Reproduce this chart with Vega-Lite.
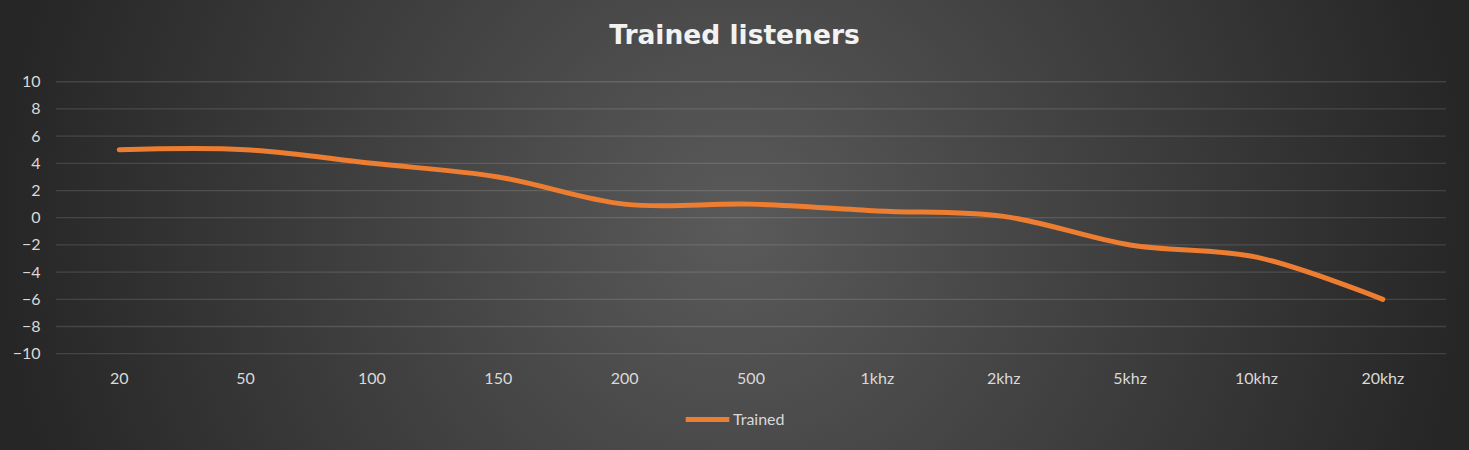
{
  "$schema": "https://vega.github.io/schema/vega-lite/v6.json",
  "description": "Trained listeners frequency response, smooth line on a dark radial gradient.",
  "width": 1469,
  "height": 450,
  "autosize": {"type": "none"},
  "padding": 0,
  "background": "#262626",
  "title": {
    "text": "Trained listeners",
    "font": "DejaVu Sans",
    "fontSize": 26.5,
    "fontWeight": "bold",
    "color": "#f2f2f2",
    "anchor": "middle",
    "baseline": "alphabetic",
    "offset": -70
  },
  "datasets": {
    "curve": [
      {"freq": "20", "value": 5, "series": "Trained"},
      {"freq": "50", "value": 5, "series": "Trained"},
      {"freq": "100", "value": 4, "series": "Trained"},
      {"freq": "150", "value": 3, "series": "Trained"},
      {"freq": "200", "value": 1, "series": "Trained"},
      {"freq": "500", "value": 1, "series": "Trained"},
      {"freq": "1khz", "value": 0.5, "series": "Trained"},
      {"freq": "2khz", "value": 0.1, "series": "Trained"},
      {"freq": "5khz", "value": -2, "series": "Trained"},
      {"freq": "10khz", "value": -2.9, "series": "Trained"},
      {"freq": "20khz", "value": -6, "series": "Trained"}
    ],
    "grid": [
      {"tick": -10}, {"tick": -8}, {"tick": -6}, {"tick": -4}, {"tick": -2},
      {"tick": 0}, {"tick": 2}, {"tick": 4}, {"tick": 6}, {"tick": 8}, {"tick": 10}
    ]
  },
  "layer": [
    {
      "data": {"name": "grid"},
      "mark": {"type": "rule", "color": "#ffffff", "opacity": 0.13, "strokeWidth": 1.3},
      "encoding": {
        "y": {"field": "tick", "type": "quantitative"},
        "x": {"datum": "20", "bandPosition": 0},
        "x2": {"datum": "20khz", "bandPosition": 1}
      }
    },
    {
      "data": {"name": "curve"},
      "mark": {
        "type": "line",
        "interpolate": "catmull-rom",
        "strokeWidth": 5,
        "strokeCap": "round"
      },
      "encoding": {
        "x": {"field": "freq", "type": "nominal", "sort": null},
        "y": {"field": "value", "type": "quantitative"},
        "color": {
          "field": "series",
          "type": "nominal",
          "scale": {"range": ["#ED7D31"]},
          "legend": {
            "title": null,
            "orient": "none",
            "legendX": 683,
            "legendY": 395,
            "padding": 0,
            "symbolType": "stroke",
            "symbolSize": 1900,
            "symbolStrokeWidth": 5,
            "labelFontSize": 16,
            "labelColor": "#d9d9d9",
            "labelFont": "Lato",
            "labelOffset": 1
          }
        }
      }
    }
  ],
  "encoding": {
    "x": {
      "type": "nominal",
      "scale": {
        "domain": ["20", "50", "100", "150", "200", "500", "1khz", "2khz", "5khz", "10khz", "20khz"],
        "range": [56, 1446],
        "paddingInner": 0,
        "paddingOuter": 0
      },
      "axis": {
        "title": null,
        "orient": "bottom",
        "offset": -72,
        "labelAngle": 0,
        "labelBaseline": "middle",
        "labelPadding": 0,
        "domain": false,
        "ticks": false,
        "grid": false,
        "labelFontSize": 16,
        "labelColor": "#d9d9d9",
        "labelFont": "Lato"
      }
    },
    "y": {
      "type": "quantitative",
      "scale": {"domain": [-17.08, 16.01], "nice": false, "zero": false},
      "axis": {
        "title": null,
        "offset": -40,
        "values": [-10, -8, -6, -4, -2, 0, 2, 4, 6, 8, 10],
        "domain": false,
        "ticks": false,
        "grid": false,
        "labelPadding": 0,
        "labelFontSize": 16,
        "labelColor": "#d9d9d9",
        "labelFont": "Lato"
      }
    }
  },
  "config": {
    "view": {
      "stroke": null,
      "fill": {
        "gradient": "radial",
        "x1": 0.5, "y1": 0.5, "r1": 0,
        "x2": 0.5, "y2": 0.5, "r2": 0.5,
        "stops": [
          {"offset": 0, "color": "#5a5a5a"},
          {"offset": 1, "color": "#262626"}
        ]
      }
    }
  }
}
